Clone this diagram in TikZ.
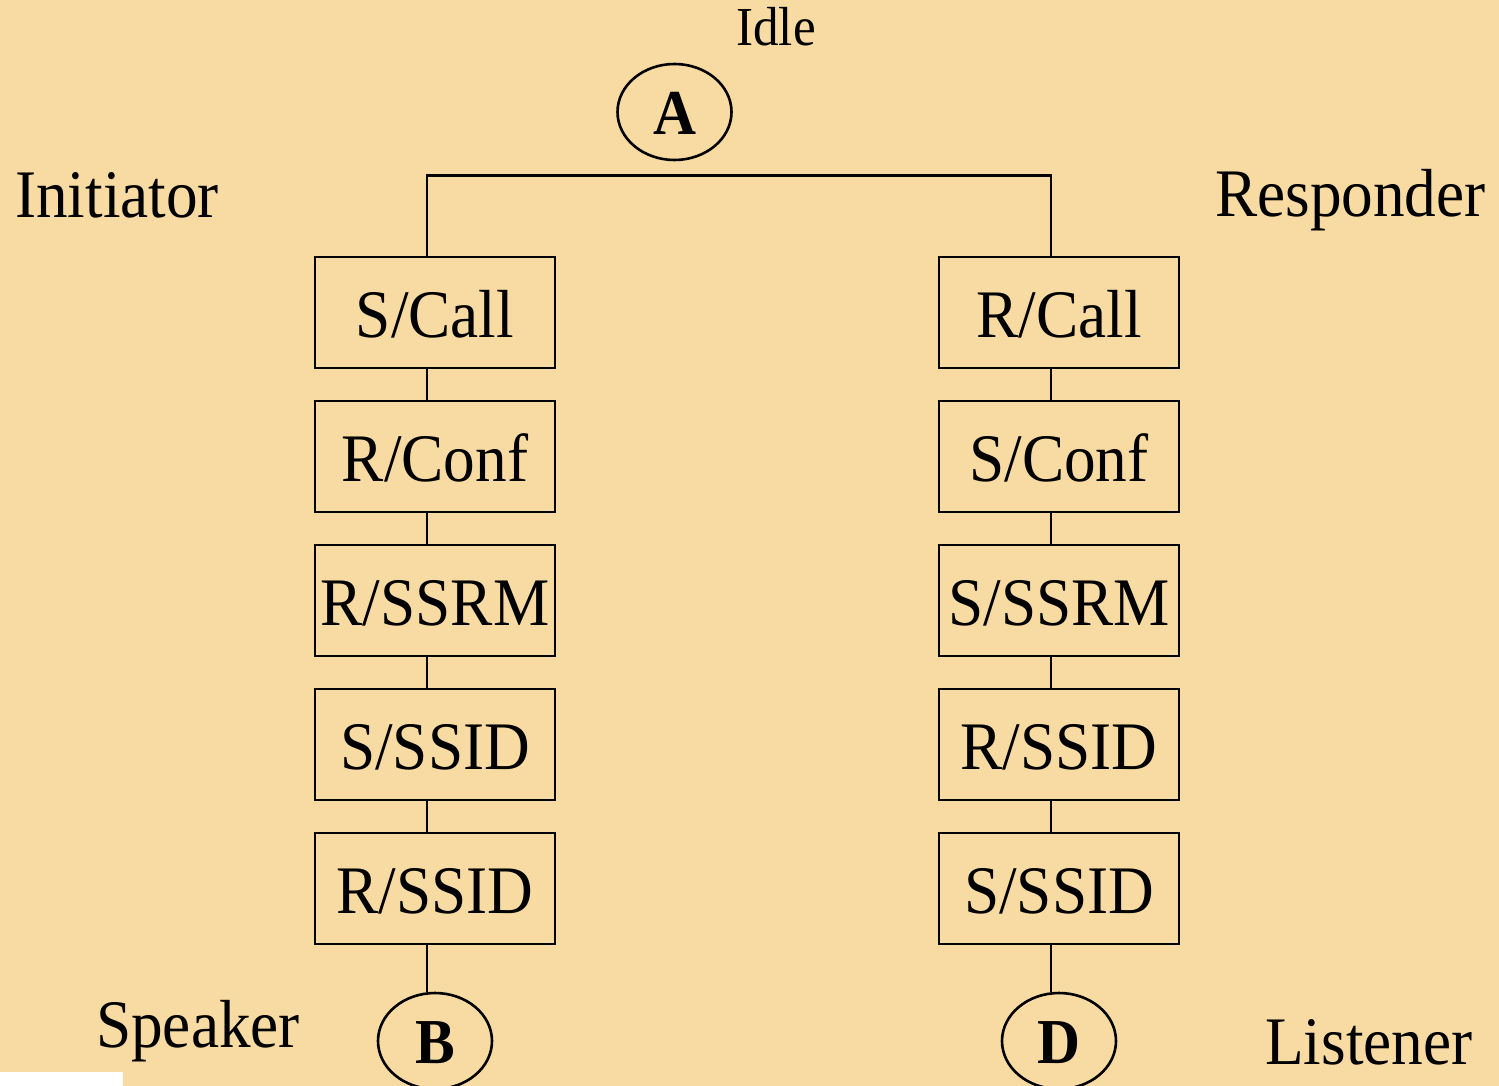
\documentclass[tikz,border=0pt]{standalone}
\usepackage{fontspec}
\setmainfont{Liberation Serif}[FakeStretch=0.93]
\usetikzlibrary{shapes.geometric}
\definecolor{bg}{HTML}{F8DAA3}
\tikzset{
  state/.style={draw, line width=2.6pt, minimum width=240pt, minimum height=111pt,
    inner sep=0pt, text height=49pt, text depth=0pt, font=\fontsize{68}{70}\selectfont},
  term/.style={draw, ellipse, line width=2.6pt, minimum width=114pt, minimum height=96pt,
    inner sep=0pt, text height=45pt, text depth=0pt, font=\fontsize{64}{66}\selectfont\bfseries},
  role/.style={anchor=base west, inner sep=0pt, font=\fontsize{68}{70}\selectfont},
  link/.style={line width=2.8pt},
}
\begin{document}
\begin{tikzpicture}[x=1pt, y=-1pt]
  \useasboundingbox (0,0) rectangle (1499,1086);
  \fill[bg] (0,0) rectangle (1499,1086);
  \fill[white] (0,1072) rectangle (123,1086);

  % idle state and its label
  \node[term] (A) at (674.5,112) {A};
  \node[role, font=\fontsize{55}{57}\selectfont] (idle) at (736,46) {Idle};

  % initiator branch
  \node[state] (l1) at (435,312.5) {S/Call};
  \node[state] (l2) at (435,456.5) {R/Conf};
  \node[state] (l3) at (435,600.5) {R/SSRM};
  \node[state] (l4) at (435,744.5) {S/SSID};
  \node[state] (l5) at (435,888.5) {R/SSID};
  \node[term] (B) at (435,1041) {B};

  % responder branch
  \node[state] (r1) at (1059,312.5) {R/Call};
  \node[state] (r2) at (1059,456.5) {S/Conf};
  \node[state] (r3) at (1059,600.5) {S/SSRM};
  \node[state] (r4) at (1059,744.5) {R/SSID};
  \node[state] (r5) at (1059,888.5) {S/SSID};
  \node[term] (D) at (1059,1041) {D};

  % side labels
  \node[role] (ini) at (15,218) {Initiator};
  \node[role] (res) at (1215,217) {Responder};
  \node[role] (spk) at (96,1047) {Speaker};
  \node[role] (lis) at (1265,1064) {Listener};

  % fork joining the two branches
  \draw[link] ([xshift=-8pt]l1.north) -- ++(0,-80) -| ([xshift=-8pt]r1.north);

  % chains
  \foreach \a/\b in {l1/l2, l2/l3, l3/l4, l4/l5, l5/B, r1/r2, r2/r3, r3/r4, r4/r5, r5/D}
    \draw[link] ([xshift=-8pt]\a.south) -- ([xshift=-8pt]\b.north);
\end{tikzpicture}
\end{document}
